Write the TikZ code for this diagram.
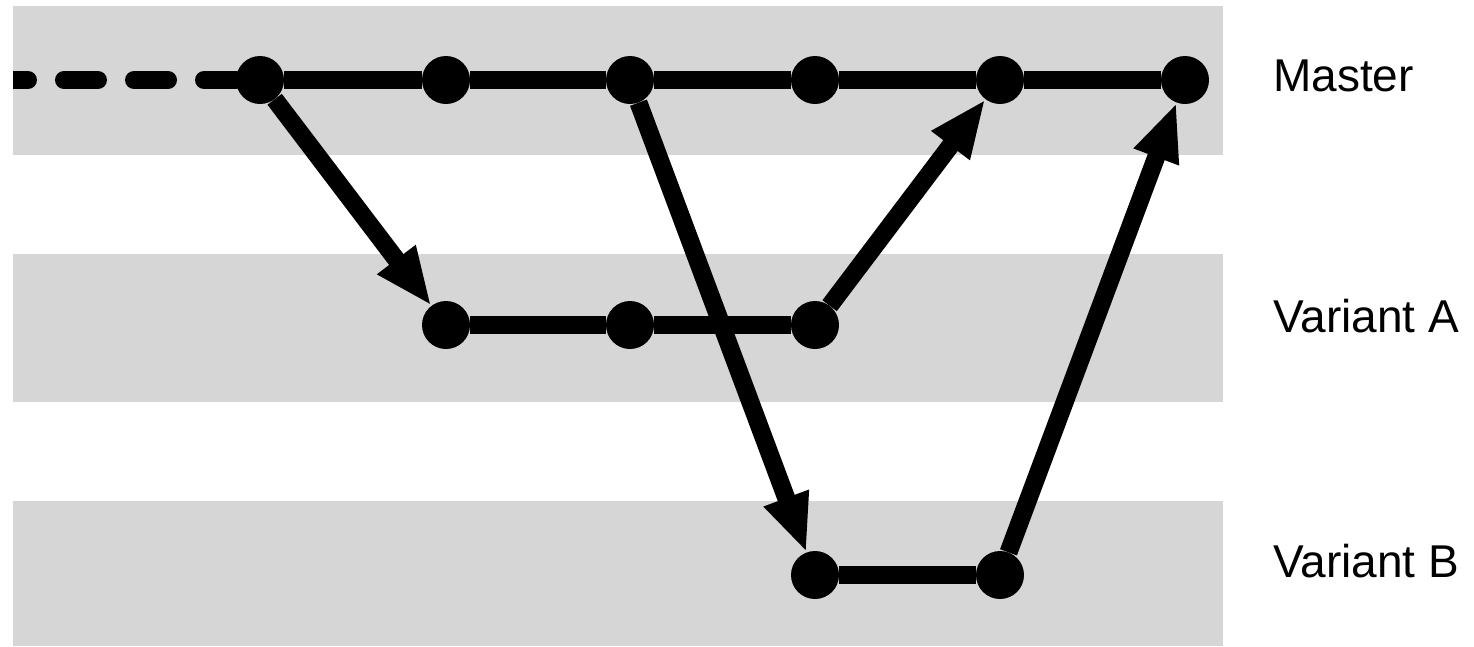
\documentclass[tikz,border=0pt]{standalone}
\usepackage{fontspec}
\setmainfont{Liberation Sans}
\usetikzlibrary{arrows.meta}
\definecolor{bandgray}{RGB}{214,214,214}
\tikzset{
  band/.style={fill=bandgray, draw=none},
  commit/.style={circle, fill=black, draw=none, inner sep=0pt, minimum size=48pt},
  branchline/.style={line width=18pt, draw=black},
  mergearrow/.style={branchline, -{Triangle[length=58pt,width=44pt]}},
  history/.style={branchline, line cap=round, dash pattern=on 34pt off 36pt},
  lbl/.style={anchor=base west, inner sep=0pt, font=\fontsize{46}{54}\selectfont}
}
\begin{document}
\begin{tikzpicture}[x=1pt,y=-1pt]
\useasboundingbox (0,0) rectangle (1474,646);
% bands
\fill[band] (13,6) rectangle (1223,155);
\fill[band] (13,254) rectangle (1223,402);
\fill[band] (13,501) rectangle (1223,646);
% commits
\node[commit] (m1) at (260,80) {};
\node[commit] (m2) at (446,80) {};
\node[commit] (m3) at (630,80) {};
\node[commit] (m4) at (815,80) {};
\node[commit] (m5) at (1000,80) {};
\node[commit] (m6) at (1185,80) {};
\node[commit] (a1) at (446,325) {};
\node[commit] (a2) at (630,325) {};
\node[commit] (a3) at (815,325) {};
\node[commit] (b1) at (815,575) {};
\node[commit] (b2) at (1000,575) {};
% earlier history
\coordinate (start) at (-6,80);
\begin{scope}
\clip (13,0) rectangle (1474,646);
\draw[history] (start) -- (m1);
\end{scope}
% branch lines
\draw[branchline] (m1) -- (m2) -- (m3) -- (m4) -- (m5) -- (m6);
\draw[branchline] (a1) -- (a2) -- (a3);
\draw[branchline] (b1) -- (b2);
% branching and merging
\draw[mergearrow] (m1) -- (a1);
\draw[mergearrow] (m3) -- (b1);
\draw[mergearrow] (a3) -- (m5);
\draw[mergearrow] (b2) -- (m6);
% labels
\node[lbl] (lm) at (1273,91) {Master};
\node[lbl] (la) at (1273,332) {Variant A};
\node[lbl] (lb) at (1273,577) {Variant B};
\end{tikzpicture}
\end{document}
